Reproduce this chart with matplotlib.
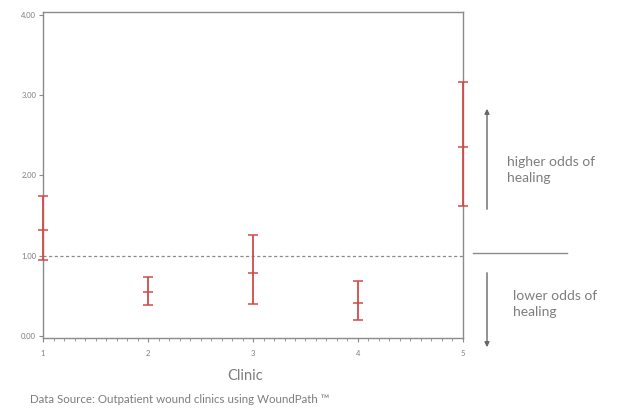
import matplotlib.pyplot as plt
import numpy as np
from matplotlib.ticker import MultipleLocator

# odds ratios per clinic
clinics = [1, 2, 3, 4, 5]
odds = [1.32, 0.55, 0.78, 0.41, 2.35]
lower = [0.95, 0.38, 0.40, 0.20, 1.62]
upper = [1.75, 0.74, 1.26, 0.68, 3.17]
ytick_vals = [0.0, 1.0, 2.0, 3.0, 4.0]

RED = "#d24a4a"
GREY = "#8a8a8a"
TXT = "#7d7d7d"

plt.rcParams["font.family"] = ["Lato", "DejaVu Sans"]

fig = plt.figure(figsize=(6.17, 4.11), dpi=100)
ax = fig.add_axes([0.0697, 0.178, 0.6807, 0.793])

odds = np.array(odds)
err = [odds - np.array(lower), np.array(upper) - odds]
ax.errorbar(clinics, odds, yerr=err, fmt="_", color=RED, ecolor=RED,
            elinewidth=1.3, capsize=3.5, capthick=1.1, markersize=7,
            markeredgewidth=1.1, clip_on=False, zorder=3)

ax.axhline(1.0, color=GREY, linestyle=(0, (2.5, 2)), linewidth=0.9, zorder=1)

ax.set_xlim(1, 5)
ax.set_ylim(-0.025, 4.04)
ax.set_xticks(clinics)
ax.set_xticklabels([str(c) for c in clinics])
ax.xaxis.set_minor_locator(MultipleLocator(0.1))
ax.set_yticks(ytick_vals)
ax.set_yticklabels([f"{v:.2f}" for v in ytick_vals])
ax.tick_params(axis="both", which="major", labelsize=5.5, colors=GREY,
               labelcolor=TXT, length=3, width=0.8, pad=2)
ax.tick_params(axis="x", which="major", pad=6)
ax.tick_params(axis="x", which="minor", length=2, width=0.6, colors=GREY)
for s in ax.spines.values():
    s.set_color(GREY)
    s.set_linewidth(1.0)

fig.text(245 / 617, 1 - 376 / 411, "Clinic", ha="center", va="center",
         fontsize=10.5, color=TXT)
fig.text(30 / 617, 1 - 399 / 411,
         "Data Source: Outpatient wound clinics using WoundPath \u2122",
         ha="left", va="center", fontsize=8.3, color=TXT)

# annotations to the right of the plot
def fy(py):
    return 1 - py / 411

fig.add_artist(plt.Line2D([473 / 617, 567 / 617], [fy(253), fy(253)],
                          color=GREY, linewidth=1.0))
ax.annotate("", xy=(487 / 617, fy(106)), xytext=(487 / 617, fy(212)),
            xycoords="figure fraction", textcoords="figure fraction",
            arrowprops=dict(arrowstyle="-|>", color="#666666", lw=1.0,
                            mutation_scale=7))
ax.annotate("", xy=(487 / 617, fy(350)), xytext=(487 / 617, fy(270)),
            xycoords="figure fraction", textcoords="figure fraction",
            arrowprops=dict(arrowstyle="-|>", color="#666666", lw=1.0,
                            mutation_scale=7))
fig.text(507 / 617, fy(170), "higher odds of\nhealing", ha="left",
         va="center", fontsize=10, color=TXT, linespacing=1.45)
fig.text(513 / 617, fy(304), "lower odds of\nhealing", ha="left",
         va="center", fontsize=10, color=TXT, linespacing=1.45)

fig.savefig("out.png", dpi=100, facecolor="white")
